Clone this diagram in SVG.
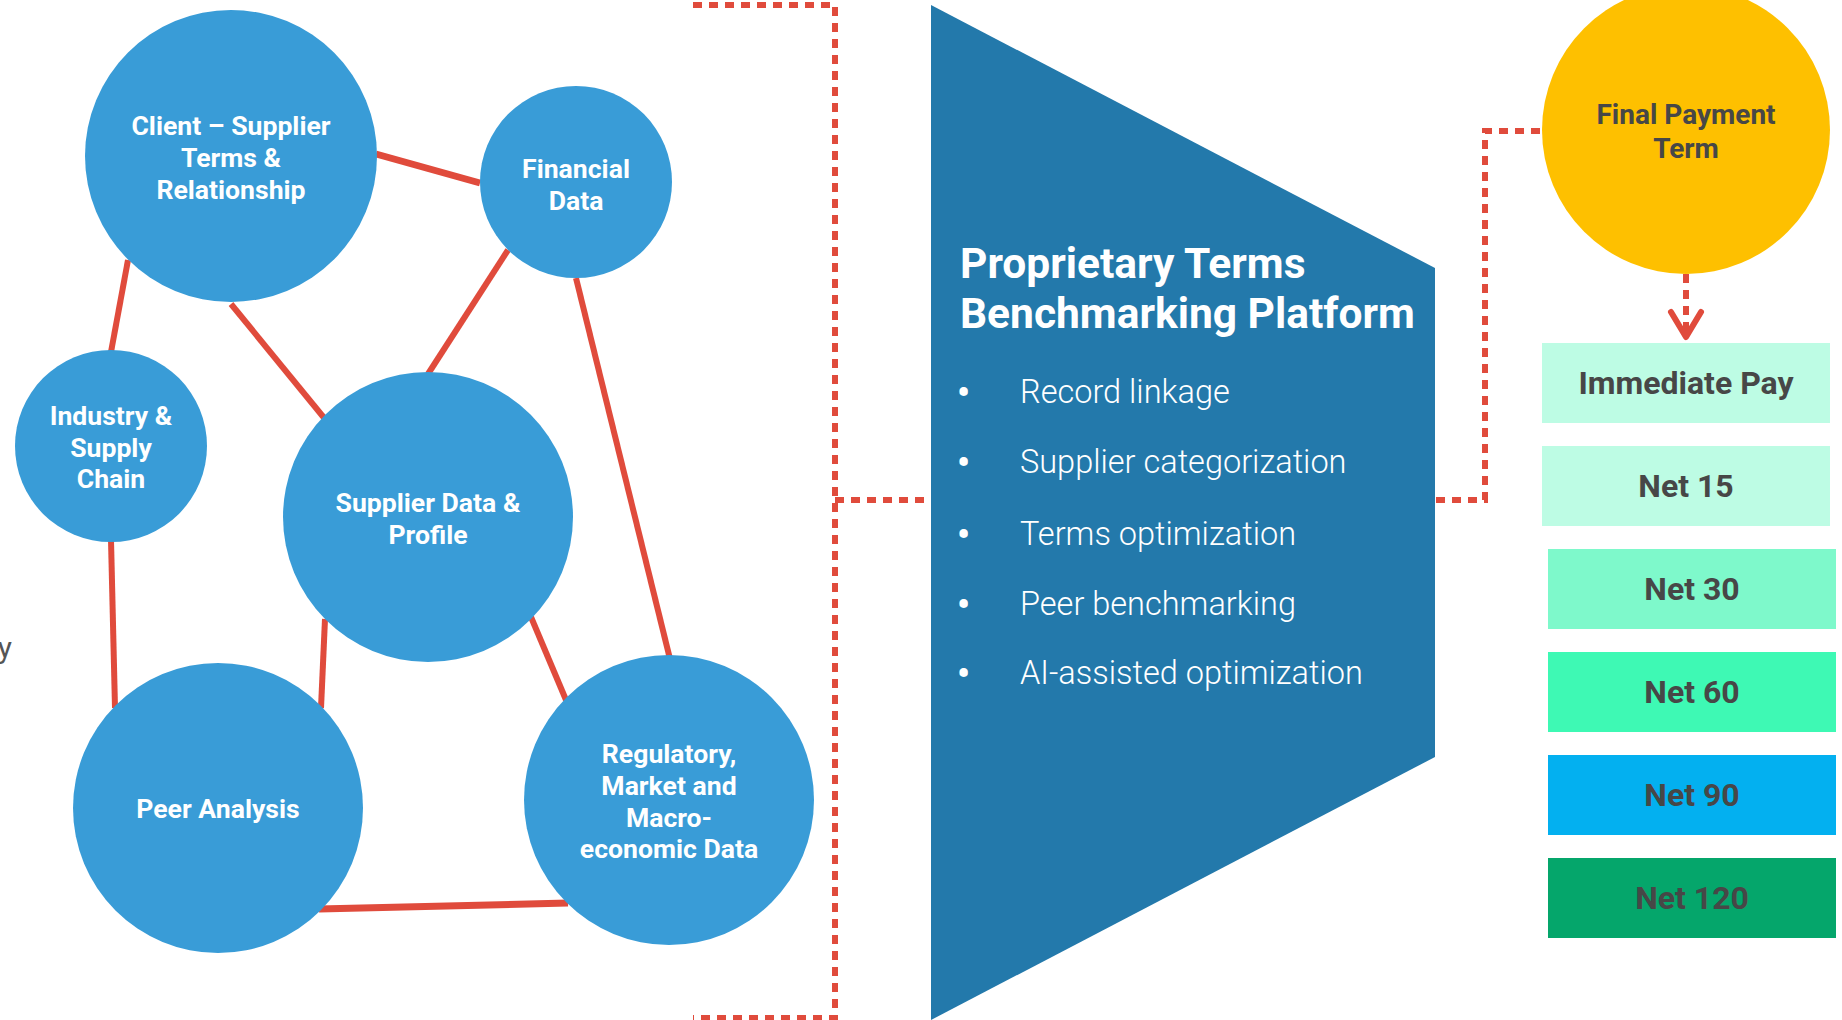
<svg xmlns="http://www.w3.org/2000/svg" width="1842" height="1020" viewBox="0 0 1842 1020">
<style>
.c{fill:#399CD7}
.lbl{font-family:Roboto,"Liberation Sans",sans-serif;font-weight:700;font-size:26.6px;fill:#fff;text-anchor:middle}
.ln{stroke:#E04B3C;stroke-width:6;fill:none}
.dl{stroke:#E04B3C;stroke-width:6;fill:none;stroke-dasharray:9 7}
.box{font-family:Roboto,"Liberation Sans",sans-serif;font-weight:700;font-size:32px;fill:#474747;text-anchor:middle}
.bul{font-family:Roboto,"Liberation Sans",sans-serif;font-weight:300;font-size:32.5px;fill:#fff}
.dot{font-weight:700;font-size:36px}
</style>
<rect width="1842" height="1020" fill="#fff"/>
<text x="12" y="658" font-family="Roboto,'Liberation Sans',sans-serif" font-size="30" fill="#555" text-anchor="end">y</text>
<g id="connectors">
<line class="ln" x1="376" y1="154" x2="480" y2="183" style="stroke-width:7"/>
<line class="ln" x1="128" y1="260" x2="111" y2="352"/>
<line class="ln" x1="231" y1="304" x2="325" y2="419"/>
<line class="ln" x1="508" y1="250" x2="428" y2="374"/>
<line class="ln" x1="576" y1="278" x2="670" y2="659"/>
<line class="ln" x1="111" y1="540" x2="115" y2="708"/>
<line class="ln" x1="325" y1="619" x2="321" y2="708"/>
<line class="ln" x1="531" y1="617" x2="566" y2="700"/>
<line class="ln" x1="319" y1="909" x2="568" y2="903" style="stroke-width:7"/>
<polyline class="dl" points="693,5 835,5 835,1018 693,1018"/>
<line class="dl" x1="835" y1="500" x2="931" y2="500"/>
<polyline class="dl" points="1436,500 1485,500 1485,131 1543,131"/>
<line class="dl" x1="1686" y1="274" x2="1686" y2="334"/>
<polyline points="1671,312 1686,337 1701,312" fill="none" stroke="#E04B3C" stroke-width="6" stroke-linecap="round" stroke-linejoin="round"/>
</g>
<g id="node-client">
<circle class="c" cx="231" cy="156" r="146"/>
<text class="lbl" x="231" y="135">Client – Supplier</text>
<text class="lbl" x="231" y="167">Terms &amp;</text>
<text class="lbl" x="231" y="199">Relationship</text>
</g>
<g id="node-financial">
<circle class="c" cx="576" cy="182" r="96"/>
<text class="lbl" x="576" y="178">Financial</text>
<text class="lbl" x="576" y="210">Data</text>
</g>
<g id="node-industry">
<circle class="c" cx="111" cy="446" r="96"/>
<text class="lbl" x="111" y="425">Industry &amp;</text>
<text class="lbl" x="111" y="457">Supply</text>
<text class="lbl" x="111" y="488">Chain</text>
</g>
<g id="node-supplier">
<circle class="c" cx="428" cy="517" r="145"/>
<text class="lbl" x="428" y="512">Supplier Data &amp;</text>
<text class="lbl" x="428" y="544">Profile</text>
</g>
<g id="node-peer">
<circle class="c" cx="218" cy="808" r="145"/>
<text class="lbl" x="218" y="818">Peer Analysis</text>
</g>
<g id="node-regulatory">
<circle class="c" cx="669" cy="800" r="145"/>
<text class="lbl" x="669" y="763">Regulatory,</text>
<text class="lbl" x="669" y="795">Market and</text>
<text class="lbl" x="669" y="827">Macro-</text>
<text class="lbl" x="669" y="858">economic Data</text>
</g>
<g id="node-platform">
<polygon points="931,5 1435,268 1435,757 931,1020" fill="#2379AB"/>
<text font-family="Roboto,'Liberation Sans',sans-serif" font-weight="700" font-size="42.5" fill="#fff" x="960" y="278">Proprietary Terms</text>
<text font-family="Roboto,'Liberation Sans',sans-serif" font-weight="700" font-size="42.5" fill="#fff" x="960" y="328">Benchmarking Platform</text>
<g class="bul">
<text class="dot" x="957" y="405">•</text><text x="1020" y="403">Record linkage</text>
<text class="dot" x="957" y="475">•</text><text x="1020" y="473">Supplier categorization</text>
<text class="dot" x="957" y="547">•</text><text x="1020" y="545">Terms optimization</text>
<text class="dot" x="957" y="617">•</text><text x="1020" y="615">Peer benchmarking</text>
<text class="dot" x="957" y="686">•</text><text x="1020" y="684">AI-assisted optimization</text>
</g>
</g>
<g id="node-final">
<circle cx="1686" cy="130" r="144" fill="#FEC000"/>
<text font-family="Roboto,'Liberation Sans',sans-serif" font-weight="700" font-size="28" fill="#474747" text-anchor="middle" x="1686" y="124">Final Payment</text>
<text font-family="Roboto,'Liberation Sans',sans-serif" font-weight="700" font-size="28" fill="#474747" text-anchor="middle" x="1686" y="158">Term</text>
</g>
<g id="node-immediate">
<rect x="1542" y="343" width="288" height="80" fill="#BDFCE4"/>
<text class="box" x="1686" y="394">Immediate Pay</text>
</g>
<g id="node-net15">
<rect x="1542" y="446" width="288" height="80" fill="#BDFCE4"/>
<text class="box" x="1686" y="497">Net 15</text>
</g>
<g id="node-net30">
<rect x="1548" y="549" width="288" height="80" fill="#7EF9CB"/>
<text class="box" x="1692" y="600">Net 30</text>
</g>
<g id="node-net60">
<rect x="1548" y="652" width="288" height="80" fill="#3EF9B4"/>
<text class="box" x="1692" y="703">Net 60</text>
</g>
<g id="node-net90">
<rect x="1548" y="755" width="288" height="80" fill="#03B0F0"/>
<text class="box" x="1692" y="806">Net 90</text>
</g>
<g id="node-net120">
<rect x="1548" y="858" width="288" height="80" fill="#05A66B"/>
<text class="box" x="1692" y="909">Net 120</text>
</g>
</svg>
